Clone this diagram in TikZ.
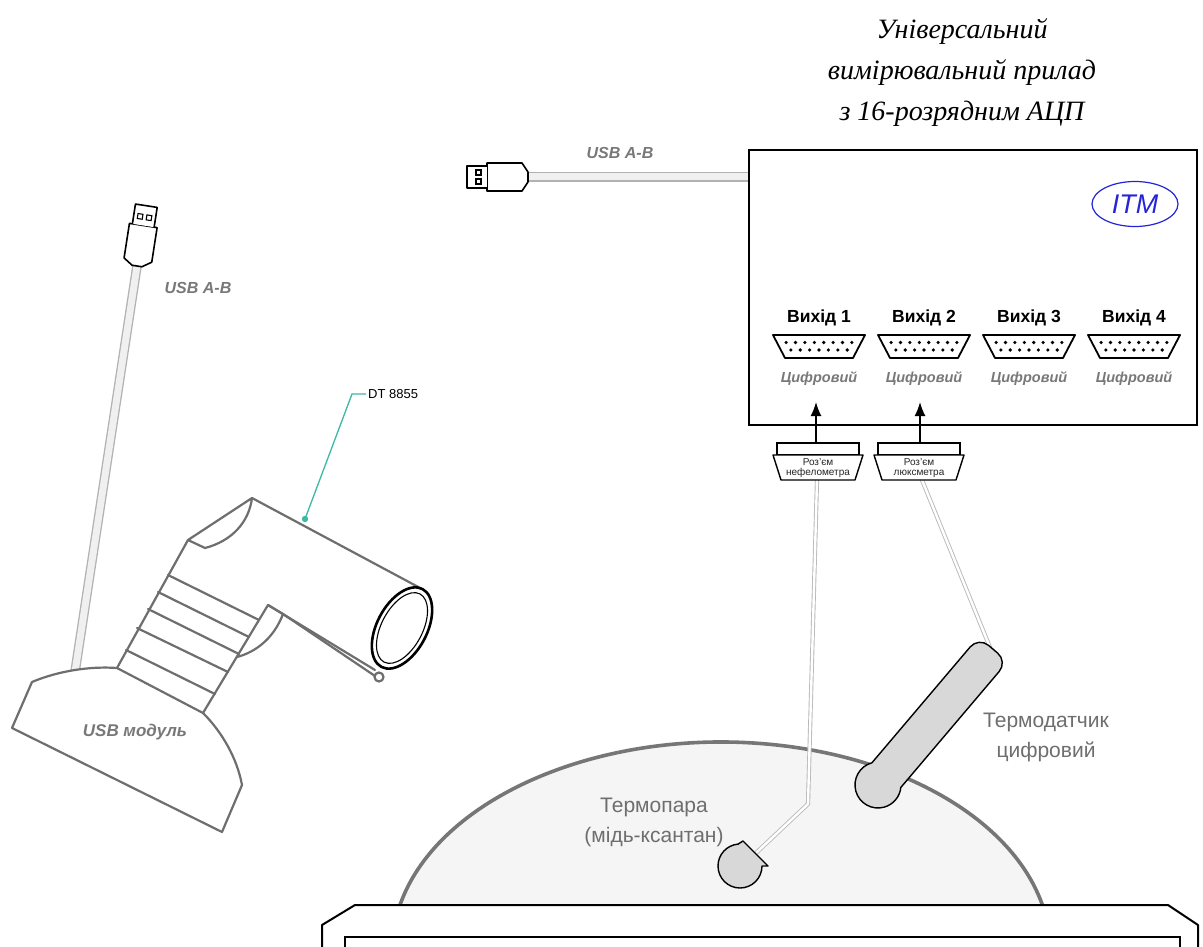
\documentclass[tikz,border=0pt]{standalone}
\usepackage{fontspec}
\setmainfont{Liberation Serif}
\setsansfont{Liberation Sans}
\usetikzlibrary{arrows.meta,shapes.geometric}

\definecolor{devgray}{HTML}{6E6E6E}
\definecolor{labelgray}{HTML}{787878}
\definecolor{probegray}{HTML}{6E6E6E}
\definecolor{domefill}{HTML}{F5F5F5}
\definecolor{domeedge}{HTML}{767676}
\definecolor{probefill}{HTML}{D8D8D8}
\definecolor{itmblue}{HTML}{2424D8}
\definecolor{leader}{HTML}{3DB8A3}

% USB-A plug, pointing along local +x from the cable end at the origin
\tikzset{usbplug/.pic={
  \draw[plugline] (0,5) -- (6,14) -- (41,14) -- (41,-14) -- (6,-14) -- (0,-5) -- cycle;
  \draw[plugline] (41,11) -- (61,11) -- (61,-11) -- (41,-11);
  \draw[line width=1.1pt] (47,2) rectangle (52,7) (47,-2) rectangle (52,-7);
}}
% 15-pin D-sub socket, origin at the middle of its top edge
\tikzset{dsub/.pic={
  \draw[line width=1.8pt, fill=white, line join=round] (-46,0) -- (46,0) -- (34,23) -- (-34,23) -- cycle;
  \foreach \i in {0,...,7} \fill ({(\i-3.5)*9.4},7.5) circle (1.8);
  \foreach \i in {0,...,6} \fill ({(\i-3)*9.4},15) circle (1.8);
}}
% sensor plug, origin at the middle of its top edge
\tikzset{sensorplug/.pic={
  \draw[line width=1.4pt, fill=white] (-41,0) rectangle (41,12);
  \draw[line width=1.4pt, fill=white, line join=round] (-45,12) -- (45,12) -- (37,37) -- (-37,37) -- cycle;
}}

\begin{document}
\begin{tikzpicture}[x=1pt,y=-1pt,
  usbcable/.style={draw=gray!60, line width=1.3pt, double=gray!12, double distance=7pt},
  probecable/.style={draw=gray!55, line width=0.9pt, double=white, double distance=2.4pt},
  devline/.style={draw=devgray, line width=2.2pt, line join=round, line cap=round},
  plugline/.style={draw=black, line width=1.6pt, line join=round, fill=white},
  usblabel/.style={text=labelgray, font=\sffamily\bfseries\itshape\fontsize{16}{18}\selectfont},
  outlabel/.style={font=\sffamily\bfseries\fontsize{17.5}{19}\selectfont},
  diglabel/.style={text=labelgray, font=\sffamily\bfseries\itshape\fontsize{14.5}{16}\selectfont},
  probelabel/.style={text=probegray, align=center, font=\sffamily\fontsize{21}{30}\selectfont},
  plugtext/.style={align=center, text=gray!30!black, font=\sffamily\fontsize{10}{10.5}\selectfont, inner sep=0pt},
  arr/.style={-{Latex[length=14pt,width=11pt]}, line width=1.6pt},
]
\useasboundingbox (0,0) rectangle (1203,947);
\fill[white] (0,0) rectangle (1203,947);

% ---------- title ----------
\node[align=center, font=\fontsize{28}{41}\selectfont\itshape] (title) at (962,73)
  {Універсальний\\вимірювальний прилад\\з 16-розрядним АЦП};

% ---------- measuring unit with USB lead ----------
\coordinate (plugT) at (528,177);
\node[draw, line width=1.6pt, minimum width=448pt, minimum height=275pt, inner sep=0pt] (itm) at (973,287.5) {};
\draw[usbcable] (plugT) -- (itm.west |- plugT);
\pic[rotate=180] at (plugT) {usbplug};
\node[usblabel] (usbtop) at (620,153) {USB A-B};

\node[ellipse, draw=itmblue, line width=1.2pt, minimum width=86pt, minimum height=45pt, inner sep=0pt,
      text=itmblue, font=\sffamily\itshape\fontsize{27}{29}\selectfont] (itmlogo) at (1135,204) {ITM};

\foreach \n/\x in {1/819,2/924,3/1029,4/1134} {
  \node[outlabel] (out\n) at (\x,318) {Вихід \n};
  \pic at (\x,335) {dsub};
  \node[diglabel] (dig\n) at (\x,379) {Цифровий};
}

% ---------- sensor plugs ----------
\coordinate (k1top) at (816,443);
\coordinate (k2top) at (920,443);
\coordinate (p1tip) at (816,402);
\coordinate (p2tip) at (920,402);
\coordinate (k1bot) at (817,480);
\coordinate (k2bot) at (922,480);

% ---------- dome and tray ----------
\fill[domefill] (400,905) arc[start angle=192.5, end angle=347.5, x radius=329, y radius=208] -- cycle;
\draw[domeedge, line width=3.6pt] (400,905) arc[start angle=192.5, end angle=347.5, x radius=329, y radius=208];
\draw[line width=2pt, fill=white, line join=round] (322,947) -- (322,925) -- (355,905) -- (1168,905) -- (1198,925) -- (1198,947);
\draw[line width=2pt] (345,947) -- (345,937) -- (1180,937) -- (1180,947);

% ---------- probe leads ----------
\coordinate (bend1) at (808,804);
\coordinate (bead) at (756,853);
\coordinate (sensortop) at (991,650);
\draw[probecable] (k1bot) -- (bend1) -- (bead);
\draw[probecable] (k2bot) -- (sensortop);

\pic at (818,443) {sensorplug};
\pic at (919,443) {sensorplug};
\node[plugtext] (k1) at (818,468) {Роз'єм\\нефелометра};
\node[plugtext] (k2) at (919,468) {Роз'єм\\люксметра};
\draw[arr] (k1top) -- (p1tip);
\draw[arr] (k2top) -- (p2tip);

% digital temperature sensor
\begin{scope}[shift={(878,785)}, rotate=49.7]
  \draw[line width=1.4pt, fill=probefill, line join=round]
    (13,19) -- (165,19) arc[start angle=90, end angle=0, radius=13]
    -- (178,-6) arc[start angle=0, end angle=-90, radius=13]
    -- (13,-19) arc[start angle=-55.6, end angle=-304.4, radius=23] -- cycle;
\end{scope}
% thermocouple junction
\draw[line width=1.4pt, fill=probefill, line join=round]
  (762,866) arc[start angle=0, end angle=265, radius=22] -- (743,841) -- (768,866) -- cycle;

\node[probelabel] (tdlabel) at (1046,737) {Термодатчик\\цифровий};
\node[probelabel] (tclabel) at (654,822) {Термопара\\(мідь-ксантан)};

% ---------- USB module with pyrometer ----------
\coordinate (plugL) at (137,266);
\coordinate (cableLend) at (75,672);
\draw[usbcable] (cableLend) -- (plugL);
\pic[rotate=81.2] at (plugL) {usbplug};
\node[usblabel] (usbleft) at (198,288) {USB A-B};

% base
\draw[devline, fill=white] (32,682) .. controls (58,671) and (90,666) .. (117,668) -- (203,713)
  .. controls (222,732) and (237,758) .. (242,785) -- (222,832) -- (12,728) -- cycle;
\node[usblabel, font=\sffamily\bfseries\itshape\fontsize{17}{19}\selectfont] (usbmod) at (135,732) {USB модуль};

% pyrometer body
\draw[devline] (252,498) -- (422,589);
\draw[devline] (268,605) -- (375,670);
\draw[devline] (283,614) -- (378,678);
\draw[devline] (268,605) -- (283,614);
\draw[devline] (252,498) -- (188,540) -- (205,548) .. controls (232,541) and (249,522) .. (252,498);
\draw[devline] (188,540) -- (117,668);
\draw[devline] (268,605) -- (203,713);
\draw[devline] (283,614) .. controls (274,638) and (256,652) .. (237,657);
\foreach \a/\b in {{(168,575)}/{(259,620)}, {(158,592)}/{(249,637)}, {(148,609)}/{(239,654)},
                   {(137,628)}/{(228,672)}, {(126,650)}/{(215,694)}}
  \draw[devline] \a -- \b;
\draw[devline, fill=white] (379,677) circle (4.5);
% lens ring
\draw[line width=2.6pt, fill=white, shift={(402,628)}, rotate=-27.8] (0,0) ellipse (25 and 44);
\draw[line width=1.1pt, shift={(402,628)}, rotate=-27.8] (0,0) ellipse (20.5 and 38.5);

% model callout
\coordinate (dtdot) at (305,519);
\coordinate (dtknee) at (352,394);
\node[anchor=west, inner sep=2pt, font=\sffamily\fontsize{13}{15}\selectfont] (dt) at (366,394) {DT 8855};
\fill[leader] (dtdot) circle (3.2);
\draw[leader, line width=1.3pt] (dtdot) -- (dtknee) -- (dt.west);

\end{tikzpicture}
\end{document}
